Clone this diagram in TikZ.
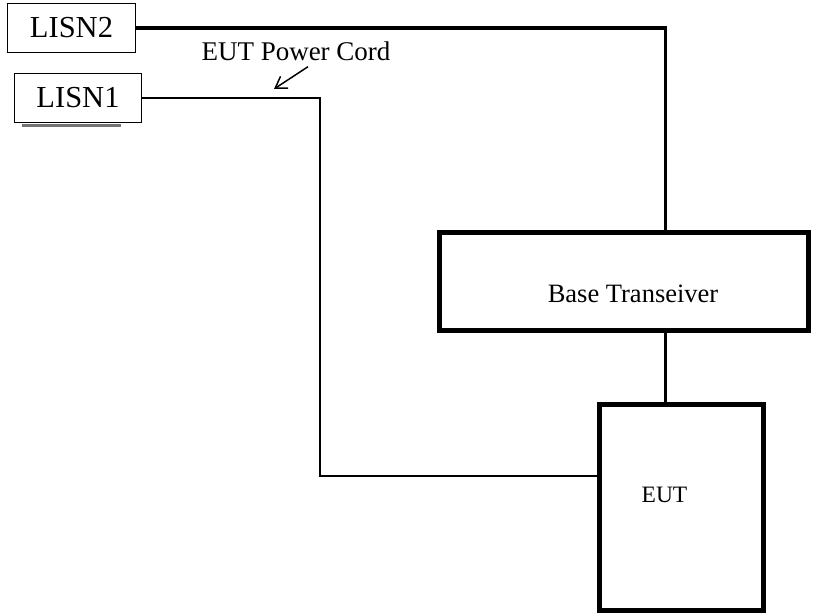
\documentclass[tikz,border=0pt]{standalone}
\usepackage{fontspec}
\setmainfont{Liberation Serif}
\usetikzlibrary{arrows.meta,positioning,calc}

\begin{document}
\begin{tikzpicture}[
	x=1pt,y=-1pt,
	>={Straight Barb[length=11pt,width=14pt,line width=1.5pt]},
	lisn/.style={
		draw,
		line width=1pt,
		inner sep=0pt,
		minimum height=49pt,
		font=\fontsize{30.5}{34}\selectfont
	},
	unit/.style={
		draw,
		line width=4.6pt,
		inner sep=0pt
	},
	wire/.style={line width=1.4pt},
	thickwire/.style={line width=3.6pt},
	shadowline/.style={line width=2.2pt,black!55},
	tag/.style={inner sep=0pt}
	]
	
	\useasboundingbox (0,0) rectangle (816,615);
	
	\node[lisn,minimum width=128pt] (lisn2) at (71.5,28) {LISN2};
	
	\node[lisn,minimum width=127pt] (lisn1) at (78,98) {LISN1};
	
	\node[unit,minimum width=369pt,minimum height=98pt] (base) at (624,281.5) {};
	
	\node[unit,minimum width=164pt,minimum height=206pt] (eut) at (681.5,507.5) {};
	
	\node[tag,font=\fontsize{26.5}{30}\selectfont] (basetext)
	at ([xshift=9pt,yshift=-12pt]base.center) {Base Transeiver};
	
	\node[tag,font=\fontsize{23.5}{27}\selectfont] (euttext)
	at ([xshift=-17pt,yshift=13pt]eut.center) {EUT};
	
	\node[tag,font=\fontsize{27}{31}\selectfont] (cord) at (296,51) {EUT Power Cord};
	
	\coordinate (tap) at (665.5,0);
	\coordinate (bend) at (320,476);
	\coordinate (cordtip) at (274,89);
	
	% shadow under LISN1
	\draw[shadowline] ($(lisn1.south west)+(8,2.5)$) -- ($(lisn1.south east)+(-21,2.5)$);
	
	\draw[thickwire] (lisn2.east) -| (tap |- base.north);
	\draw[thickwire] (tap |- base.south) -- (tap |- eut.north);
	
	\draw[wire] (lisn1.east) -| (bend) -- (bend -| eut.west);
	
	\draw[->,line width=1.5pt] ($(cord.south)+(12,6)$) -- (cordtip);
	
\end{tikzpicture}
\end{document}
